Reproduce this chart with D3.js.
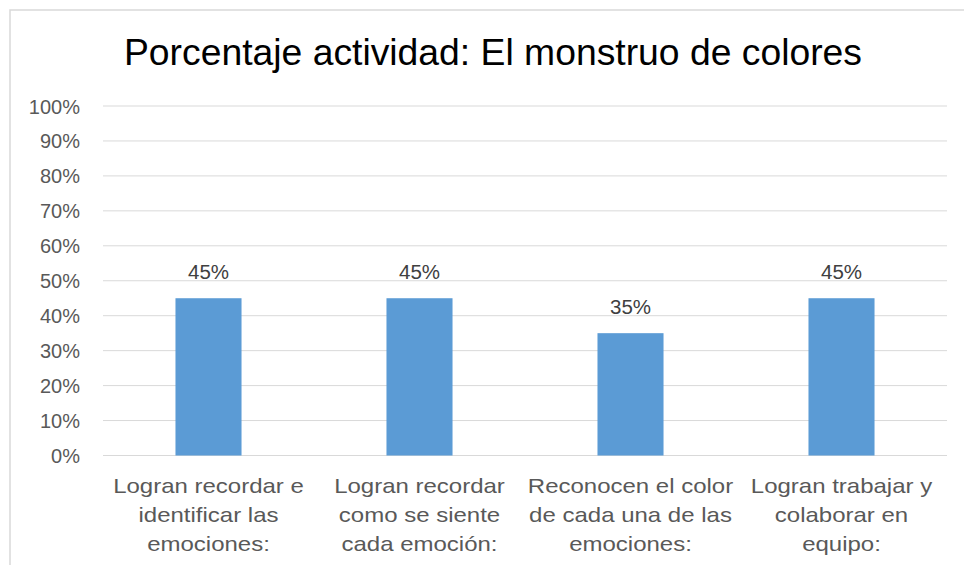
<!DOCTYPE html>
<html>
<head>
<meta charset="utf-8">
<script src="https://cdn.jsdelivr.net/npm/d3@7"></script>
<style>
  html, body { margin: 0; padding: 0; background: #fff; }
  svg { display: block; font-family: "Liberation Sans", Arial, sans-serif; }
</style>
</head>
<body>
<svg id="chart" width="964" height="565"></svg>
<script>
const title = "Porcentaje actividad: El monstruo de colores";
const categories = [
  "Logran recordar e\nidentificar las\nemociones:",
  "Logran recordar\ncomo se siente\ncada emoción:",
  "Reconocen el color\nde cada una de las\nemociones:",
  "Logran trabajar y\ncolaborar en\nequipo:"
];
const values = [0.45, 0.45, 0.35, 0.45];
const yTicks = [0, 0.1, 0.2, 0.3, 0.4, 0.5, 0.6, 0.7, 0.8, 0.9, 1.0];

(function () {
const svg = d3.select("#chart");

// chart border (extends beyond the visible window on right/bottom)
svg.append("rect")
  .attr("x", 10).attr("y", 10)
  .attr("width", 1100).attr("height", 700)
  .attr("fill", "#fff")
  .attr("stroke", "#D9D9D9").attr("stroke-width", 1.5);

const pLeft = 103, pRight = 947, pTop = 106, pBottom = 455.5;

const x = d3.scaleBand()
  .domain(categories)
  .range([pLeft, pRight])
  .paddingInner(0.687)
  .paddingOuter(0.3435);

const y = d3.scaleLinear().domain([0, 1]).range([pBottom, pTop]);

// gridlines
svg.append("g")
  .selectAll("line")
  .data(yTicks)
  .join("line")
  .attr("x1", pLeft).attr("x2", pRight)
  .attr("y1", d => y(d)).attr("y2", d => y(d))
  .attr("stroke", "#D9D9D9").attr("stroke-width", 1);

// y axis labels
const yAxis = d3.axisLeft(y).tickValues(yTicks).tickFormat(d3.format(".0%")).tickSize(0).tickPadding(0);
const yg = svg.append("g").attr("transform", `translate(80,0)`).call(yAxis);
yg.select(".domain").remove();
yg.selectAll("text")
  .attr("font-size", 20)
  .attr("font-family", "'Liberation Sans', Arial, sans-serif")
  .attr("fill", "#595959")
  .attr("dy", "0.35em");

// bars
svg.append("g")
  .selectAll("rect")
  .data(values)
  .join("rect")
  .attr("x", (d, i) => x(categories[i]))
  .attr("width", x.bandwidth())
  .attr("y", d => y(d))
  .attr("height", d => y(0) - y(d))
  .attr("fill", "#5B9BD5");

// data labels
svg.append("g")
  .selectAll("text")
  .data(values)
  .join("text")
  .attr("x", (d, i) => x(categories[i]) + x.bandwidth() / 2)
  .attr("y", d => y(d) - 19)
  .attr("text-anchor", "middle")
  .attr("font-size", 20.5)
  .attr("fill", "#404040")
  .text(d => d3.format(".0%")(d));

// category labels
const cg = svg.append("g")
  .selectAll("g")
  .data(categories)
  .join("g")
  .attr("transform", d => `translate(${x(d) + x.bandwidth() / 2},493) scale(1,0.86)`);
cg.each(function (d) {
  const lines = d.split("\n");
  const t = d3.select(this).append("text")
    .attr("text-anchor", "middle")
    .attr("font-size", 24)
    .attr("fill", "#595959");
  lines.forEach((ln, k) => {
    t.append("tspan").attr("x", 0).attr("y", k * 29 / 0.86).text(ln);
  });
});

// title
svg.append("text")
  .attr("x", 493).attr("y", 65)
  .attr("text-anchor", "middle")
  .attr("font-size", 37.3)
  .attr("fill", "#000")
  .text(title);
})();
</script>
</body>
</html>
